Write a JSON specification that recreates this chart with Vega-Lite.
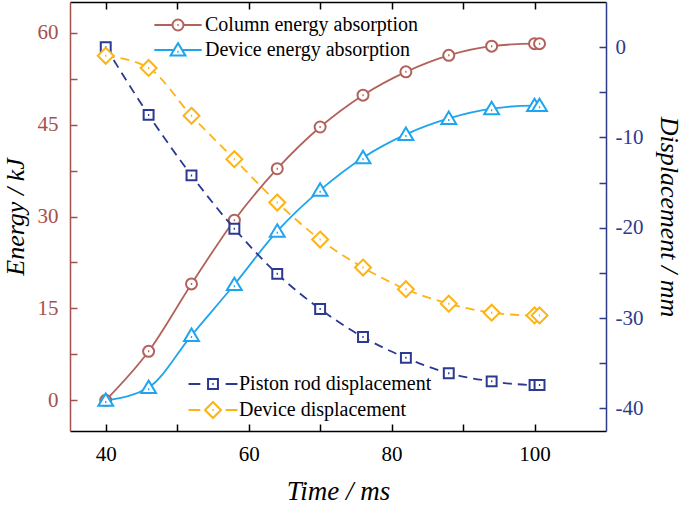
{
  "$schema": "https://vega.github.io/schema/vega-lite/v6.json",
  "width": 536,
  "height": 429,
  "autosize": "none",
  "padding": {"left": 70, "top": 2, "right": 79, "bottom": 74},
  "background": "white",
  "config": {"view": {"stroke": null}, "font": "Liberation Serif"},
  "datasets": {
    "energy": [
      {"t": 40, "v": 0, "s": "Column energy absorption"},
      {"t": 46, "v": 8.0, "s": "Column energy absorption"},
      {"t": 52, "v": 19.0, "s": "Column energy absorption"},
      {"t": 58, "v": 29.4, "s": "Column energy absorption"},
      {"t": 64, "v": 37.8, "s": "Column energy absorption"},
      {"t": 70, "v": 44.6, "s": "Column energy absorption"},
      {"t": 76, "v": 49.8, "s": "Column energy absorption"},
      {"t": 82, "v": 53.6, "s": "Column energy absorption"},
      {"t": 88, "v": 56.3, "s": "Column energy absorption"},
      {"t": 94, "v": 57.8, "s": "Column energy absorption"},
      {"t": 100, "v": 58.2, "s": "Column energy absorption"},
      {"t": 100.7, "v": 58.2, "s": "Column energy absorption"},
      {"t": 40, "v": 0, "s": "Device energy absorption"},
      {"t": 46, "v": 2.1, "s": "Device energy absorption"},
      {"t": 52, "v": 10.6, "s": "Device energy absorption"},
      {"t": 58, "v": 18.9, "s": "Device energy absorption"},
      {"t": 64, "v": 27.6, "s": "Device energy absorption"},
      {"t": 70, "v": 34.3, "s": "Device energy absorption"},
      {"t": 76, "v": 39.6, "s": "Device energy absorption"},
      {"t": 82, "v": 43.4, "s": "Device energy absorption"},
      {"t": 88, "v": 46.0, "s": "Device energy absorption"},
      {"t": 94, "v": 47.6, "s": "Device energy absorption"},
      {"t": 100, "v": 48.1, "s": "Device energy absorption"},
      {"t": 100.7, "v": 48.1, "s": "Device energy absorption"}
    ],
    "disp": [
      {"t": 40, "v": 0, "s": "Piston rod displacement"},
      {"t": 46, "v": -7.5, "s": "Piston rod displacement"},
      {"t": 52, "v": -14.2, "s": "Piston rod displacement"},
      {"t": 58, "v": -20.1, "s": "Piston rod displacement"},
      {"t": 64, "v": -25.1, "s": "Piston rod displacement"},
      {"t": 70, "v": -29.0, "s": "Piston rod displacement"},
      {"t": 76, "v": -32.1, "s": "Piston rod displacement"},
      {"t": 82, "v": -34.4, "s": "Piston rod displacement"},
      {"t": 88, "v": -36.1, "s": "Piston rod displacement"},
      {"t": 94, "v": -37.0, "s": "Piston rod displacement"},
      {"t": 100, "v": -37.4, "s": "Piston rod displacement"},
      {"t": 100.7, "v": -37.4, "s": "Piston rod displacement"},
      {"t": 40, "v": -0.95, "s": "Device displacement"},
      {"t": 46, "v": -2.3, "s": "Device displacement"},
      {"t": 52, "v": -7.6, "s": "Device displacement"},
      {"t": 58, "v": -12.4, "s": "Device displacement"},
      {"t": 64, "v": -17.2, "s": "Device displacement"},
      {"t": 70, "v": -21.3, "s": "Device displacement"},
      {"t": 76, "v": -24.4, "s": "Device displacement"},
      {"t": 82, "v": -26.8, "s": "Device displacement"},
      {"t": 88, "v": -28.4, "s": "Device displacement"},
      {"t": 94, "v": -29.4, "s": "Device displacement"},
      {"t": 100, "v": -29.7, "s": "Device displacement"},
      {"t": 100.7, "v": -29.7, "s": "Device displacement"}
    ]
  },
  "layer": [
    {
      "data": {"name": "energy"},
      "encoding": {
        "x": {
          "field": "t", "type": "quantitative",
          "scale": {"domain": [35, 110], "nice": false, "zero": false},
          "axis": {
            "orient": "bottom",
            "title": "Time / ms",
            "titleFont": "Liberation Serif", "titleFontStyle": "italic", "titleFontWeight": "normal",
            "titleFontSize": 27, "titleColor": "black", "titlePadding": 14,
            "values": [40, 50, 60, 70, 80, 90, 100],
            "labelExpr": "datum.value % 20 == 0 ? datum.label : ''",
            "labelFont": "Liberation Serif", "labelFontSize": 21, "labelColor": "black",
            "labelPadding": 19, "labelFlush": false, "labelOverlap": false,
            "tickSize": -7, "tickColor": "black", "tickWidth": 1.5,
            "domainColor": "black", "domainWidth": 1.5, "grid": false,
            "encode": {"ticks": {"update": {"y2": {"signal": "datum.value % 20 == 0 ? -7 : -4"}}}}
          }
        },
        "y": {
          "field": "v", "type": "quantitative",
          "scale": {"domain": [-5, 65], "nice": false, "zero": false},
          "axis": {
            "orient": "left",
            "title": "Energy / kJ",
            "titleFont": "Liberation Serif", "titleFontStyle": "italic", "titleFontWeight": "normal",
            "titleFontSize": 26, "titleColor": "black", "titlePadding": 9,
            "values": [0, 7.5, 15, 22.5, 30, 37.5, 45, 52.5, 60],
            "labelExpr": "datum.value % 15 == 0 ? datum.label : ''",
            "labelFont": "Liberation Serif", "labelFontSize": 21, "labelColor": "#A4514C",
            "labelPadding": 19, "labelFlush": false, "labelOverlap": false,
            "tickSize": -7, "tickColor": "#A4514C", "tickWidth": 1.5,
            "domainColor": "#A4514C", "domainWidth": 1.5, "grid": false,
            "encode": {"ticks": {"update": {"x2": {"signal": "datum.value % 15 == 0 ? 7 : 4"}}}}
          }
        },
        "color": {
          "field": "s", "type": "nominal",
          "scale": {"domain": ["Column energy absorption", "Device energy absorption"], "range": ["#B3625B", "#1EA5EE"]},
          "legend": {
            "title": null, "orient": "none", "legendX": 98, "legendY": 13, "padding": 0,
            "labelFont": "Liberation Serif", "labelFontSize": 20, "labelColor": "black", "labelLimit": 400,
            "symbolSize": 121, "symbolStrokeWidth": 2, "labelOffset": 17, "rowPadding": 4,
            "encode": {"symbols": {"update": {
              "shape": {"signal": "datum.value == 'Column energy absorption' ? 'M-4.3,0H-1M1,0H4.3M-1,0A1,1,0,1,1,1,0A1,1,0,1,1,-1,0ZM-0.12,0H0.12' : 'M-4.3,0H-0.75M0.75,0H4.3M0,-1.25L1.35,1H-1.35ZM-0.12,0.3H0.12'"},
              "fill": {"value": "transparent"},
              "strokeDash": {"value": []}
            }}}
          }
        }
      },
      "layer": [
        {"mark": {"type": "line", "interpolate": "monotone", "strokeWidth": 1.8}},
        {
          "transform": [{"filter": "datum.s == 'Column energy absorption'"}],
          "mark": {"type": "point", "filled": false, "fill": "white", "strokeWidth": 2, "size": 121, "opacity": 1,
            "shape": "M-1,0A1,1,0,1,1,1,0A1,1,0,1,1,-1,0ZM-0.12,0H0.12"}
        },
        {
          "transform": [{"filter": "datum.s == 'Device energy absorption'"}],
          "mark": {"type": "point", "filled": false, "fill": "white", "strokeWidth": 2, "size": 121, "opacity": 1,
            "shape": "M0,-1.25L1.35,1H-1.35ZM-0.12,0.3H0.12"}
        }
      ]
    },
    {
      "data": {"name": "disp"},
      "encoding": {
        "x": {
          "field": "t", "type": "quantitative",
          "scale": {"domain": [35, 110], "nice": false, "zero": false},
          "axis": {
            "orient": "top", "title": null, "labels": false,
            "values": [40, 50, 60, 70, 80, 90, 100],
            "tickSize": -7, "tickColor": "black", "tickWidth": 1.5,
            "domainColor": "black", "domainWidth": 1.5, "grid": false
          }
        },
        "y": {
          "field": "v", "type": "quantitative",
          "scale": {"domain": [-42.5, 5], "nice": false, "zero": false},
          "axis": {
            "orient": "right",
            "title": "Displacement / mm",
            "titleFont": "Liberation Serif", "titleFontStyle": "italic", "titleFontWeight": "normal",
            "titleFontSize": 26, "titleColor": "black", "titlePadding": 13,
            "values": [-40, -35, -30, -25, -20, -15, -10, -5, 0],
            "labelExpr": "datum.value % 10 == 0 ? '' + datum.value : ''",
            "labelFont": "Liberation Serif", "labelFontSize": 21, "labelColor": "#2E3A8C",
            "labelPadding": 16, "labelFlush": false, "labelOverlap": false,
            "tickSize": -7, "tickColor": "#2E3A8C", "tickWidth": 1.5,
            "domainColor": "#2E3A8C", "domainWidth": 1.5, "grid": false,
            "encode": {"ticks": {"update": {"x2": {"signal": "datum.value % 10 == 0 ? -7 : -4"}}}}
          }
        },
        "color": {
          "field": "s", "type": "nominal",
          "scale": {"domain": ["Piston rod displacement", "Device displacement"], "range": ["#2B3990", "#FCB316"]},
          "legend": {
            "title": null, "orient": "none", "legendX": 133, "legendY": 372, "padding": 0,
            "labelFont": "Liberation Serif", "labelFontSize": 20, "labelColor": "black", "labelLimit": 400,
            "symbolSize": 121, "symbolStrokeWidth": 2, "labelOffset": 16, "rowPadding": 4,
            "encode": {"symbols": {"update": {
              "shape": {"signal": "datum.value == 'Piston rod displacement' ? 'M-4.45,0H-2.3M2.3,0H4.45M-0.9,-0.9H0.9V0.9H-0.9ZM-0.12,0H0.12' : 'M-4.45,0H-2.3M2.3,0H4.45M0,-1.45L1.45,0L0,1.45L-1.45,0ZM-0.12,0H0.12'"},
              "fill": {"value": "transparent"},
              "strokeDash": {"value": []}
            }}}
          }
        }
      },
      "layer": [
        {"mark": {"type": "line", "interpolate": "monotone", "strokeWidth": 1.8, "strokeDash": [9, 6]}},
        {
          "transform": [{"filter": "datum.s == 'Piston rod displacement'"}],
          "mark": {"type": "point", "filled": false, "fill": "white", "strokeWidth": 2, "size": 121, "opacity": 1,
            "shape": "M-0.9,-0.9H0.9V0.9H-0.9ZM-0.12,0H0.12"}
        },
        {
          "transform": [{"filter": "datum.s == 'Device displacement'"}],
          "mark": {"type": "point", "filled": false, "fill": "white", "strokeWidth": 2, "size": 121, "opacity": 1,
            "shape": "M0,-1.45L1.45,0L0,1.45L-1.45,0ZM-0.12,0H0.12"}
        }
      ]
    }
  ],
  "resolve": {"scale": {"x": "independent", "y": "independent", "color": "independent"}}
}
